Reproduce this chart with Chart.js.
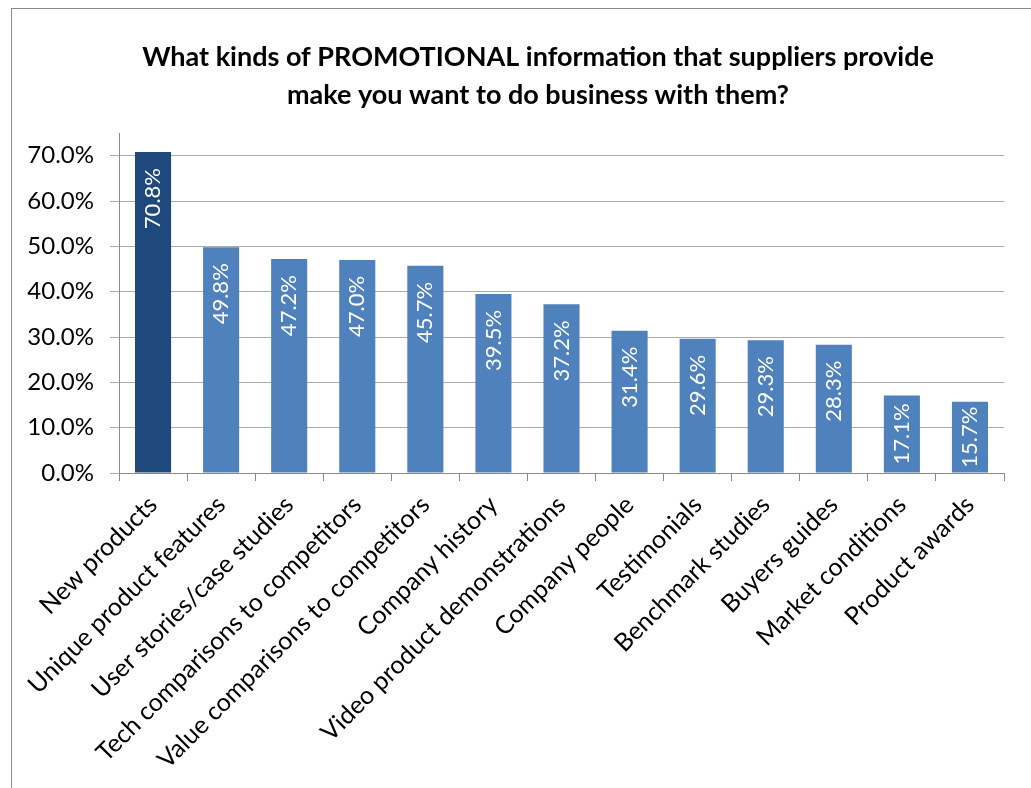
<!DOCTYPE html>
<html>
<head>
<meta charset="utf-8">
<title>Promotional information</title>
<script src="https://cdn.jsdelivr.net/npm/chart.js@4.4.0/dist/chart.umd.min.js"></script>
<style>
  html, body { margin: 0; padding: 0; background: #fff; overflow: hidden; }
  #marco {
    position: absolute; left: 11px; top: 8px; width: 1100px; height: 900px;
    border-left: 1px solid #8a8a8a; border-top: 1px solid #8a8a8a;
  }
  #contenedor { position: absolute; left: 0; top: 0; width: 1031px; height: 788px; }
</style>
</head>
<body>
<div id="marco"></div>
<div id="contenedor"><canvas id="grafico"></canvas></div>
<script>
const categorias = [
    "New products",
    "Unique product features",
    "User stories/case studies",
    "Tech comparisons to competitors",
    "Value comparisons to competitors",
    "Company history",
    "Video product demonstrations",
    "Company people",
    "Testimonials",
    "Benchmark studies",
    "Buyers guides",
    "Market conditions",
    "Product awards"
];
const porcentajes = [70.8, 49.8, 47.2, 47.0, 45.7, 39.5, 37.2, 31.4, 29.6, 29.3, 28.3, 17.1, 15.7];
const ticksY = [0, 10, 20, 30, 40, 50, 60, 70];
const titulo = [
    "What kinds of PROMOTIONAL information that suppliers provide",
    "make you want to do business with them?"
];

const FUENTE = "Lato, 'Open Sans', sans-serif";

// titulo centrado sobre el marco, no sobre el area del grafico
const tituloCentrado = {
    id: 'tituloCentrado',
    afterDraw(chart) {
        const ctx = chart.ctx;
        ctx.save();
        ctx.fillStyle = '#000';
        ctx.font = 'bold 27px ' + FUENTE;
        ctx.textAlign = 'center';
        ctx.textBaseline = 'middle';
        titulo.forEach((linea, i) => ctx.fillText(linea, 538, 57 + i * 38));
        ctx.restore();
    }
};

// etiquetas blancas giradas dentro de cada barra, pegadas arriba
// (si la barra es corta se reduce el margen para que quepa)
const etiquetasBarras = {
    id: 'etiquetasBarras',
    afterDatasetsDraw(chart) {
        const ctx = chart.ctx;
        const meta = chart.getDatasetMeta(0);
        ctx.save();
        ctx.fillStyle = '#ffffff';
        ctx.font = '22px ' + FUENTE;
        ctx.textAlign = 'right';
        ctx.textBaseline = 'middle';
        meta.data.forEach((barra, i) => {
            const texto = porcentajes[i].toFixed(1) + '%';
            const ancho = ctx.measureText(texto).width;
            const alto = barra.base - barra.y;
            const margen = Math.max(4, Math.min(16, (alto - ancho) / 2));
            ctx.save();
            ctx.translate(barra.x, barra.y + margen);
            ctx.rotate(-Math.PI / 2);
            ctx.fillText(texto, 0, 0);
            ctx.restore();
        });
        ctx.restore();
    }
};

const colores = porcentajes.map((v, i) => i === 0 ? '#1F497D' : '#4F81BD');

new Chart(document.getElementById('grafico'), {
    type: 'bar',
    data: {
        labels: categorias,
        datasets: [{
            data: porcentajes,
            backgroundColor: colores,
            borderWidth: 0,
            categoryPercentage: 1,
            barPercentage: 0.53
        }]
    },
    options: {
        responsive: true,
        maintainAspectRatio: false,
        animation: false,
        layout: { padding: { left: 0, right: 27, top: 133, bottom: 0 } },
        plugins: {
            legend: { display: false },
            tooltip: { enabled: false },
            title: { display: false }
        },
        scales: {
            x: {
                grid: {
                    offset: true,
                    drawOnChartArea: false,
                    drawTicks: true,
                    tickLength: 8,
                    color: '#8a8a8a'
                },
                border: { color: '#8a8a8a' },
                ticks: {
                    autoSkip: false,
                    minRotation: 45,
                    maxRotation: 45,
                    color: '#000',
                    padding: 9,
                    font: { family: FUENTE, size: 25 }
                },
                afterFit(scale) { scale.height = 315; }
            },
            y: {
                min: 0,
                max: 75,
                afterBuildTicks(scale) {
                    scale.ticks = ticksY.map(v => ({ value: v }));
                },
                grid: { color: '#ababab', tickLength: 9 },
                border: { color: '#8a8a8a' },
                ticks: {
                    color: '#000',
                    padding: 16,
                    font: { family: FUENTE, size: 24 },
                    callback: v => v.toFixed(1) + '%'
                },
                afterFit(scale) { scale.width = 119; }
            }
        }
    },
    plugins: [etiquetasBarras, tituloCentrado]
});
</script>
</body>
</html>
